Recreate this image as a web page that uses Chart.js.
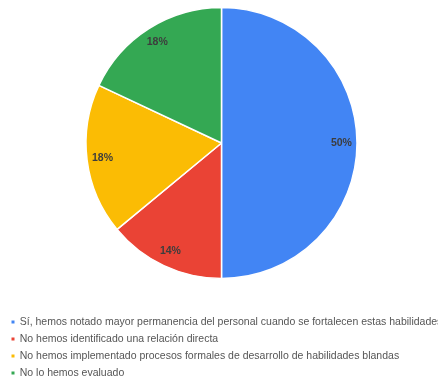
<!DOCTYPE html>
<html>
<head>
<meta charset="utf-8">
<script src="https://cdn.jsdelivr.net/npm/chart.js@4.4.1/dist/chart.umd.min.js"></script>
<style>
  html, body { margin: 0; padding: 0; background: #ffffff; }
  #wrap { position: relative; width: 438px; height: 383px; }
</style>
</head>
<body>
<div id="wrap"><canvas id="chart"></canvas></div>
<script>
// Survey answers and their share of responses (%)
const categories = [
  'Sí, hemos notado mayor permanencia del personal cuando se fortalecen estas habilidades',
  'No hemos identificado una relación directa',
  'No hemos implementado procesos formales de desarrollo de habilidades blandas',
  'No lo hemos evaluado'
];
const shares = [50, 14, 18, 18];
const sliceColors = ['#4285F4', '#EA4335', '#FBBC04', '#34A853'];

// Writes the percentage inside each slice, near the outer edge
const sliceLabels = {
  id: 'sliceLabels',
  afterDatasetsDraw(chart) {
    const ctx = chart.ctx;
    const meta = chart.getDatasetMeta(0);
    const values = chart.data.datasets[0].data;
    ctx.save();
    ctx.font = 'bold 10.5px "Liberation Sans", Arial, sans-serif';
    ctx.fillStyle = '#3d3d3d';
    ctx.textAlign = 'center';
    ctx.textBaseline = 'middle';
    meta.data.forEach((arc, i) => {
      const p = arc.getProps(['x', 'y', 'startAngle', 'endAngle', 'outerRadius'], true);
      const mid = (p.startAngle + p.endAngle) / 2;
      const r = p.outerRadius * 0.885;
      ctx.fillText(values[i] + '%', p.x + Math.cos(mid) * r, p.y + Math.sin(mid) * r);
    });
    ctx.restore();
  }
};

new Chart(document.getElementById('chart'), {
  type: 'pie',
  data: {
    labels: categories,
    datasets: [{
      data: shares,
      backgroundColor: sliceColors,
      borderColor: '#ffffff',
      borderWidth: 1.5
    }]
  },
  options: {
    responsive: true,
    maintainAspectRatio: false,
    animation: false,
    radius: 135.5,
    layout: { padding: { left: 5, right: -1, top: 0, bottom: -5.25 } },
    plugins: {
      tooltip: { enabled: false },
      legend: {
        position: 'bottom',
        align: 'start',
        // empty title keeps a gap between the pie and the first legend row
        title: {
          display: true,
          text: ' ',
          font: { size: 10.5 },
          padding: { top: 11.65, bottom: 0 }
        },
        labels: {
          boxWidth: 3,
          boxHeight: 3,
          padding: 6.5,
          color: '#555555',
          font: { family: '"Liberation Sans", Arial, sans-serif', size: 10.5 },
          generateLabels(chart) {
            const ds = chart.data.datasets[0];
            return chart.data.labels.map((text, i) => ({
              text,
              fillStyle: ds.backgroundColor[i],
              strokeStyle: ds.backgroundColor[i],
              lineWidth: 0,
              fontColor: '#555555',
              hidden: false,
              index: i
            }));
          }
        }
      }
    }
  },
  plugins: [sliceLabels]
});
</script>
</body>
</html>
